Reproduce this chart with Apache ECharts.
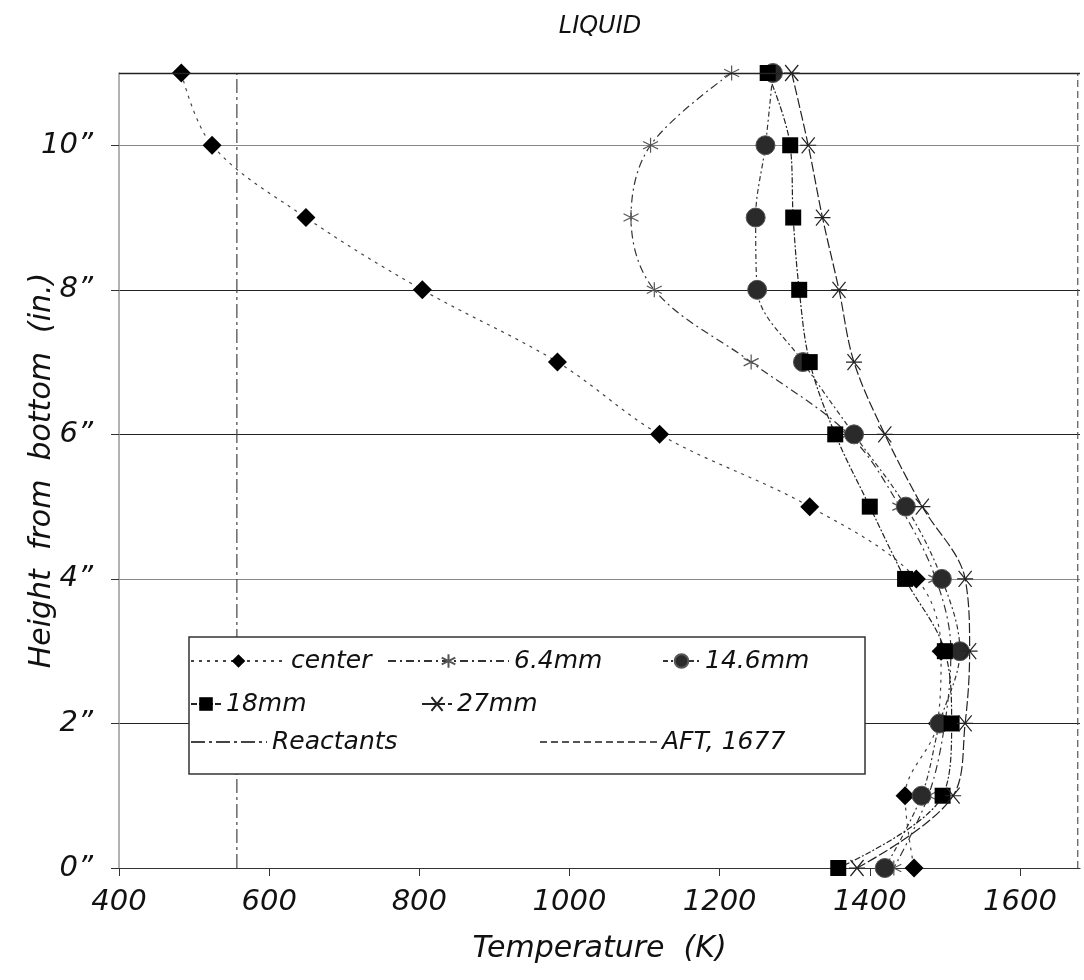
<!DOCTYPE html>
<html>
<head>
<meta charset="utf-8">
<script src="https://cdn.jsdelivr.net/npm/echarts@6/dist/echarts.min.js"></script>
<style>html,body{margin:0;padding:0;background:#fff}#c{width:1084px;height:980px}</style>
</head>
<body>
<div id="c"></div>
<script>
// Heights (inches from bottom) for every measured profile
var heights = [11, 10, 9, 8, 7, 6, 5, 4, 3, 2, 1, 0];
// Temperatures (K) at each height
var center  = [483, 524, 649, 804, 984, 1120, 1320, 1462, 1495, 1490, 1447, 1459];
var mm6_4   = [1216, 1108, 1082, 1113, 1242, 1372, 1440, 1488, 1508, 1500, 1478, 1432];
var mm14_6  = [1271, 1261, 1248, 1250, 1311, 1379, 1448, 1496, 1520, 1493, 1469, 1420];
var mm18    = [1264, 1294, 1298, 1306, 1320, 1354, 1400, 1447, 1500, 1509, 1497, 1358];
var mm27    = [1296, 1318, 1337, 1359, 1379, 1420, 1470, 1527, 1533, 1527, 1511, 1383];
var reactantsT = 557;
var aftT = 1677;
var topHeight = 11;
var xTicks = [400, 600, 800, 1000, 1200, 1400, 1600];
var yTicks = [0, 2, 4, 6, 8, 10];

function pairs(temps) { return temps.map(function (t, i) { return [t, heights[i]]; }); }

var FONT = 'DejaVu Sans';
var ast6 = 'path://M0,-10L0,10M-8.66,-5L8.66,5M-8.66,5L8.66,-5';
var ast27 = 'path://M-9,-9L9,9M-9,9L9,-9M-11,0L11,0';

var chart = echarts.init(document.getElementById('c'), null, {renderer: 'canvas'});

function leg(name, left, cy, w, extra) {
  var d = {name: name};
  if (extra) { for (var k in extra) d[k] = extra[k]; }
  return {
    data: [d], left: left, top: cy - 14, itemWidth: w, itemHeight: 17,
    padding: 0, selectedMode: false, z: 20,
    textStyle: {fontFamily: FONT, fontStyle: 'italic', fontSize: 25, color: '#111', lineHeight: 28}
  };
}

var option = {
  animation: false,
  backgroundColor: '#fff',
  grid: {left: 119, right: 4, top: 73, bottom: 112, containLabel: false},
  xAxis: {
    type: 'value', min: 400, max: 1680, interval: 200,
    name: 'Temperature  (K)', nameLocation: 'middle', nameGap: 66, nameMoveOverlap: false,
    nameTextStyle: {fontFamily: FONT, fontStyle: 'italic', fontSize: 30, color: '#111'},
    axisLine: {show: true, onZero: false, lineStyle: {color: '#333', width: 1.2}},
    axisTick: {show: true, inside: false, length: 8, customValues: xTicks, lineStyle: {color: '#333'}},
    splitLine: {show: false},
    axisLabel: {
      margin: 20, fontFamily: FONT, fontStyle: 'italic', fontSize: 29, color: '#111',
      formatter: function (v) { return xTicks.indexOf(v) >= 0 ? String(v) : ''; }
    }
  },
  yAxis: {
    type: 'value', min: 0, max: topHeight, interval: 2,
    name: 'Height  from  bottom  (in.)', nameLocation: 'middle', nameGap: 62, nameRotate: 90,
    nameMoveOverlap: false,
    nameTextStyle: {fontFamily: FONT, fontStyle: 'italic', fontSize: 30, color: '#111'},
    axisLine: {show: true, lineStyle: {color: '#999', width: 1.5}},
    axisTick: {show: true, length: 8, customValues: yTicks, lineStyle: {color: '#333'}},
    splitLine: {show: true, lineStyle: {color: ['#222', '#222', '#888', '#222', '#222', '#888'], width: 1.2}},
    axisLabel: {
      margin: 26, fontFamily: FONT, fontStyle: 'italic', fontSize: 29, color: '#111',
      formatter: function (v) { return yTicks.indexOf(v) >= 0 ? v + '\u201D' : ''; }
    }
  },
  legend: [
    leg('center', 190, 661, 95),
    leg('6.4mm', 387, 661, 121),
    leg('14.6mm', 662, 661, 37),
    leg('18mm', 190, 704, 30),
    leg('27mm', 421, 704, 30),
    leg('Reactants', 190, 742, 76, {itemStyle: {opacity: 0}}),
    leg('AFT, 1677', 539, 742, 117, {itemStyle: {opacity: 0}})
  ],
  graphic: [
    {type: 'rect', z: 10, shape: {x: 189, y: 637, width: 676, height: 137},
     style: {fill: '#fff', stroke: '#333', lineWidth: 1.5}},
    {type: 'text', z: 10, x: 600, y: 27,
     style: {text: 'LIQUID', font: 'italic 24px "DejaVu Sans"', fill: '#111', textAlign: 'center', textVerticalAlign: 'middle'}}
  ],
  series: [
    {name: 'Reactants', type: 'line', data: [[reactantsT, 0], [reactantsT, topHeight]], symbol: 'none',
     lineStyle: {color: '#444', width: 1.2, type: [14, 4, 3, 4]}, z: 2,
     markLine: {silent: true, symbol: 'none', label: {show: false},
       lineStyle: {color: '#222', width: 1.3, type: 'solid'}, data: [{yAxis: topHeight}]}},
    {name: 'AFT, 1677', type: 'line', data: [[aftT, 0], [aftT, topHeight]], symbol: 'none',
     lineStyle: {color: '#555', width: 1.2, type: [7, 4]}, z: 2},
    {name: 'center', type: 'line', data: pairs(center), smooth: 0.35,
     symbol: 'diamond', symbolSize: 19,
     itemStyle: {color: '#000'}, lineStyle: {color: '#444', width: 1.2, type: [3, 5]}, z: 3},
    {name: '6.4mm', type: 'line', data: pairs(mm6_4), smooth: 0.35,
     symbol: ast6, symbolSize: 15,
     itemStyle: {color: '#555', borderColor: '#555', borderWidth: 1.2},
     lineStyle: {color: '#333', width: 1.2, type: [8, 4, 2, 4]}, z: 3},
    {name: '14.6mm', type: 'line', data: pairs(mm14_6), smooth: 0.35,
     symbol: 'circle', symbolSize: 19,
     itemStyle: {color: '#2a2a2a', borderColor: '#555', borderWidth: 1},
     lineStyle: {color: '#333', width: 1.2, type: [5, 3, 2, 3]}, z: 3},
    {name: '18mm', type: 'line', data: pairs(mm18), smooth: 0.35,
     symbol: 'rect', symbolSize: 16,
     itemStyle: {color: '#000'}, lineStyle: {color: '#222', width: 1.2, type: [6, 2, 2, 2]}, z: 3},
    {name: '27mm', type: 'line', data: pairs(mm27), smooth: 0.35,
     symbol: ast27, symbolSize: 16,
     itemStyle: {color: '#222', borderColor: '#222', borderWidth: 1.2},
     lineStyle: {color: '#222', width: 1.2, type: [10, 3]}, z: 3}
  ]
};
chart.setOption(option);
</script>
</body>
</html>
